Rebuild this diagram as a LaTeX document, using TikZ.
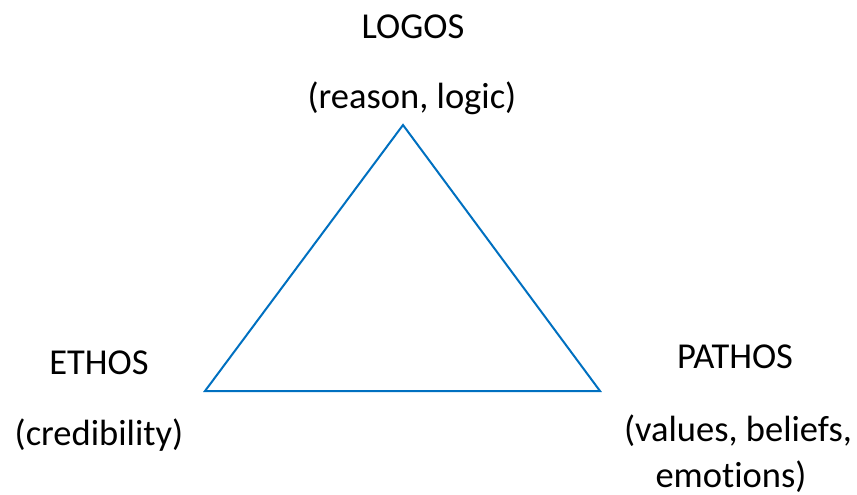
\documentclass[tikz,border=0pt]{standalone}
\usepackage{fontspec}
\setmainfont{Carlito}[Ligatures=NoCommon]
\usepackage{tikz}
\usetikzlibrary{positioning}
\definecolor{triblue}{HTML}{0070C0}
\tikzset{
  lbl/.style  = {anchor=base, inner sep=0pt,
                 font=\fontsize{36.5}{46}\selectfont},
  side/.style = {draw=triblue, line width=2pt, line join=miter},
}

\begin{document}
\begin{tikzpicture}[x=1pt, y=-1pt]
  \useasboundingbox (0,0) rectangle (857,495);
  % corners of the triangle
  \coordinate (top)   at (403,125);
  \coordinate (left)  at (205,391);
  \coordinate (right) at (600,391);
  \draw[side] (top) -- (left) -- (right) -- cycle;
  % labels
  \node[lbl] (logos)  at (413,39)  {LOGOS};
  \node[lbl] (reason) at (412,108) {(reason, logic)};
  \node[lbl] (ethos)  at (99,374)  {ETHOS};
  \node[lbl] (cred)   at (99,445)  {(credibility)};
  \node[lbl] (pathos) at (735,368) {PATHOS};
  \node[lbl] (values) at (738,441) {(values, beliefs,};
  \node[lbl] (emot)   at (731,487) {emotions)};
\end{tikzpicture}
\end{document}
